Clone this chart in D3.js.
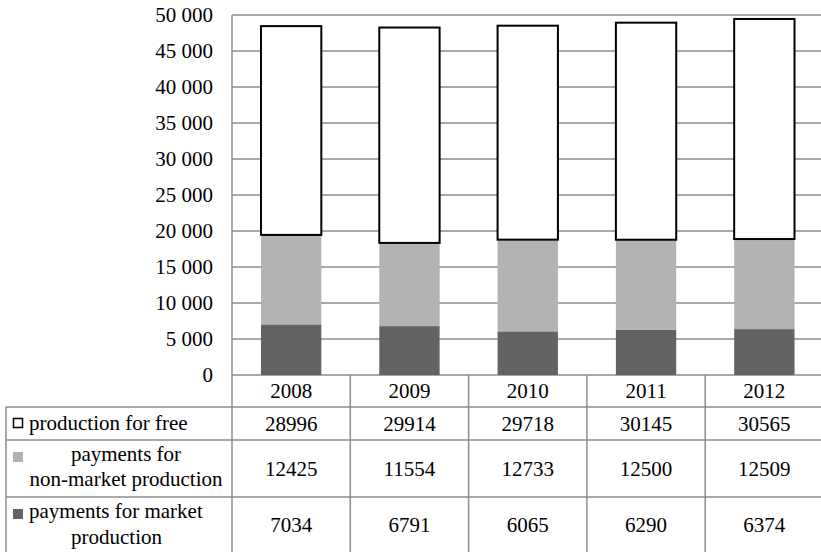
<!DOCTYPE html>
<html>
<head>
<meta charset="utf-8">
<script src="https://d3js.org/d3.v7.min.js"></script>
<style>
  body { margin: 0; background: #fff; }
  svg text { font-family: 'Liberation Serif', 'DejaVu Serif', Times, serif; }
</style>
</head>
<body>
<svg width="821" height="552"></svg>
<script>
// data
var years = ['2008', '2009', '2010', '2011', '2012'];
var seriesKeys = ['market', 'nonMarket', 'free'];
var market = [7034, 6791, 6065, 6290, 6374];
var nonMarket = [12425, 11554, 12733, 12500, 12509];
var free = [28996, 29914, 29718, 30145, 30565];
var yTicks = [0, 5000, 10000, 15000, 20000, 25000, 30000, 35000, 40000, 45000, 50000];

var colors = { market: '#636363', nonMarket: '#b3b3b3', free: '#ffffff' };
var gridColor = '#8c8c8c';
var serif = "'Liberation Serif', 'DejaVu Serif', Times, serif";

var rows = years.map(function(y, i) {
  return { year: y, market: market[i], nonMarket: nonMarket[i], free: free[i] };
});

var svg = d3.select('svg').style('font-family', serif);

var plotLeft = 232, plotTop = 15, plotBottom = 375;
var step = 118.3;

var x = d3.scaleBand()
  .domain(years)
  .range([plotLeft, plotLeft + step * years.length]);

var y = d3.scaleLinear()
  .domain([0, 50000])
  .range([plotBottom, plotTop]);

var fmt = d3.formatLocale({ decimal: '.', thousands: ' ', grouping: [3], currency: ['', ''] }).format(',d');

// gridlines
svg.append('g')
  .selectAll('line')
  .data(yTicks)
  .enter()
  .append('line')
  .attr('x1', plotLeft)
  .attr('x2', 821)
  .attr('y1', function(d) { return y(d); })
  .attr('y2', function(d) { return y(d); })
  .attr('stroke', gridColor)
  .attr('stroke-width', 1.5);

// y axis
var yAxis = d3.axisLeft(y)
  .tickValues(yTicks)
  .tickFormat(fmt)
  .tickSize(0)
  .tickPadding(19);

var gy = svg.append('g')
  .attr('transform', 'translate(' + plotLeft + ',0)')
  .call(yAxis)
  .attr('font-family', null)
  .attr('font-size', 21);
gy.select('.domain').remove();
gy.selectAll('text').attr('fill', '#000');

// stacked bars
var stack = d3.stack().keys(seriesKeys);
var stacked = stack(rows);
var barW = x.bandwidth() * 0.51;

svg.append('g')
  .selectAll('g')
  .data(stacked)
  .enter()
  .append('g')
  .attr('fill', function(d) { return colors[d.key]; })
  .attr('stroke', function(d) { return d.key === 'free' ? '#000' : 'none'; })
  .attr('stroke-width', 2)
  .selectAll('rect')
  .data(function(d) { return d; })
  .enter()
  .append('rect')
  .attr('x', function(d) { return x(d.data.year) + (x.bandwidth() - barW) / 2; })
  .attr('width', barW)
  .attr('y', function(d) { return y(d[1]); })
  .attr('height', function(d) { return y(d[0]) - y(d[1]); });

// data table
var rowLines = [407, 440, 497];
var tableBottom = 552;
var table = svg.append('g').attr('stroke', gridColor).attr('stroke-width', 1.5);

rowLines.forEach(function(yy) {
  table.append('line').attr('x1', 6).attr('x2', 821).attr('y1', yy).attr('y2', yy);
});
table.append('line').attr('x1', 6).attr('x2', 6).attr('y1', 407).attr('y2', tableBottom);
table.selectAll('.vline')
  .data(years.concat(['end']))
  .enter()
  .append('line')
  .attr('x1', function(d, i) { return plotLeft + i * x.step(); })
  .attr('x2', function(d, i) { return plotLeft + i * x.step(); })
  .attr('y1', function(d, i) { return i === 0 ? plotTop : plotBottom; })
  .attr('y2', tableBottom);

// year labels
svg.append('g')
  .selectAll('text')
  .data(years)
  .enter()
  .append('text')
  .attr('x', function(d) { return x(d) + x.bandwidth() / 2; })
  .attr('y', 391)
  .attr('dy', '0.35em')
  .attr('text-anchor', 'middle')
  .attr('font-size', 21)
  .text(function(d) { return d; });

// table values
var tableRows = [
  { values: free, cy: 424 },
  { values: nonMarket, cy: 468.5 },
  { values: market, cy: 524.5 }
];
tableRows.forEach(function(r) {
  svg.append('g')
    .selectAll('text')
    .data(r.values)
    .enter()
    .append('text')
    .attr('x', function(d, i) { return x(years[i]) + x.bandwidth() / 2; })
    .attr('y', r.cy)
    .attr('dy', '0.35em')
    .attr('text-anchor', 'middle')
    .attr('font-size', 21)
    .text(function(d) { return d; });
});

// legend keys
svg.append('rect').attr('x', 13.5).attr('y', 418.5).attr('width', 9).attr('height', 9)
  .attr('fill', colors.free).attr('stroke', '#000').attr('stroke-width', 1.5);
svg.append('rect').attr('x', 13).attr('y', 452).attr('width', 10).attr('height', 10)
  .attr('fill', colors.nonMarket);
svg.append('rect').attr('x', 13).attr('y', 509).attr('width', 10).attr('height', 10)
  .attr('fill', colors.market);

// legend labels
svg.append('text').attr('x', 29).attr('y', 429.5).attr('font-size', 21)
  .text('production for free');
svg.append('text').attr('x', 126).attr('y', 461).attr('font-size', 21)
  .attr('text-anchor', 'middle').text('payments for');
svg.append('text').attr('x', 126).attr('y', 486).attr('font-size', 21)
  .attr('text-anchor', 'middle').text('non-market production');
svg.append('text').attr('x', 29).attr('y', 518).attr('font-size', 21)
  .text('payments for market');
svg.append('text').attr('x', 116.5).attr('y', 543.5).attr('font-size', 21)
  .attr('text-anchor', 'middle').text('production');
</script>
</body>
</html>
